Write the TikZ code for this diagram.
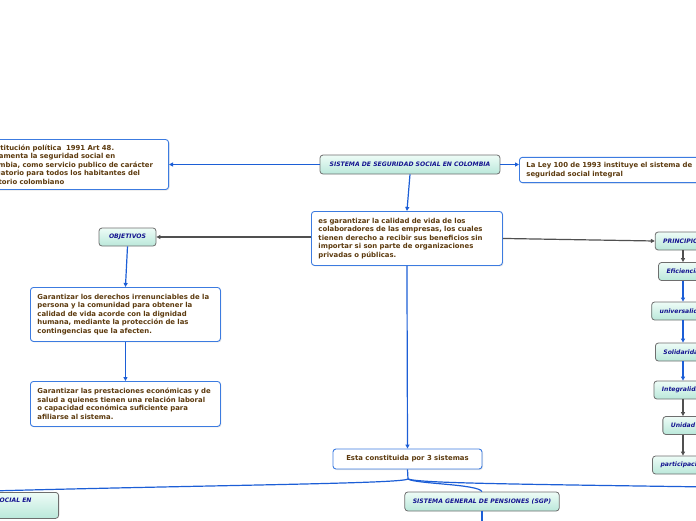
\documentclass[tikz,border=0pt]{standalone}
\usepackage{fontspec}
\setmainfont{DejaVu Sans}
\usetikzlibrary{arrows.meta,shadows}

\definecolor{linkblue}{RGB}{28,94,214}
\definecolor{boxblue}{RGB}{60,123,224}
\definecolor{txtbrown}{RGB}{92,58,14}
\definecolor{topicnavy}{RGB}{20,20,144}
\definecolor{topicgray}{RGB}{110,110,110}
\definecolor{mintlight}{RGB}{238,252,247}
\definecolor{mintdark}{RGB}{186,232,218}
\definecolor{arrowgray}{RGB}{80,80,80}

\begin{document}
\begin{tikzpicture}[x=1pt,y=-1pt,
  txtbox/.style={draw=boxblue, line width=0.9pt, rounded corners=3pt, fill=white,
    text=txtbrown, font=\bfseries\fontsize{6.9}{8.6}\selectfont, align=left,
    inner xsep=7pt, inner ysep=5pt,
    drop shadow={opacity=0.2, shadow xshift=1pt, shadow yshift=-1pt}},
  topic/.style={draw=topicgray, line width=0.8pt, rounded corners=3pt,
    top color=mintlight, bottom color=mintdark, text=topicnavy,
    font=\bfseries\itshape\fontsize{6.1}{8}\selectfont, inner xsep=8pt, minimum height=18pt},
  bluelink/.style={draw=linkblue, line width=1.2pt, -{Triangle[length=4pt,width=4pt]}},
  graylink/.style={draw=arrowgray, line width=1.2pt, -{Triangle[length=4pt,width=4pt]}},
  branch/.style={draw=linkblue, line width=1.2pt}]

  \useasboundingbox (0,0) rectangle (696,520);

  % Central topic and its neighbours
  \node[topic, minimum width=180pt, minimum height=19pt] (ssc) at (410,164.5) {SISTEMA DE SEGURIDAD SOCIAL EN COLOMBIA};
  \node[txtbox, text width=180pt, anchor=east] (constit) at (169,164.5) {Constitución política\ \ 1991 Art 48.\\ Reglamenta la seguridad social en\\ Colombia, como servicio publico de carácter\\ obligatorio para todos los habitantes del\\ territorio colombiano};
  \node[txtbox, text width=180pt, anchor=west] (ley) at (519,170) {La Ley 100 de 1993 instituye el sistema de\\ seguridad social integral};
  \node[txtbox, text width=177pt, anchor=north west, minimum height=54pt] (fin) at (311,211) {es garantizar la calidad de vida de los\\ colaboradores de las empresas, los cuales\\ tienen derecho a recibir sus beneficios sin\\ importar si son parte de organizaciones\\ privadas o públicas.};

  % Objetivos
  \node[topic, minimum width=57pt] (obj) at (127.5,237) {OBJETIVOS};
  \node[txtbox, text width=176pt, anchor=north west, minimum height=54pt] (obj1) at (30,287) {Garantizar los derechos irrenunciables de la\\ persona y la comunidad para obtener la\\ calidad de vida acorde con la dignidad\\ humana, mediante la protección de las\\ contingencias que la afecten.};
  \node[txtbox, text width=176pt, anchor=north west, minimum height=45pt] (obj2) at (30,381) {Garantizar las prestaciones económicas y de\\ salud a quienes tienen una relación laboral\\ o capacidad económica suficiente para\\ afiliarse al sistema.};

  % Principios
  \node[topic] (prin) at (683,241) {PRINCIPIOS};
  \node[topic] (efi) at (683,271.5) {Eficiencia};
  \node[topic] (univ) at (683,311) {universalidad};
  \node[topic] (soli) at (683,352) {Solidaridad};
  \node[topic] (integ) at (683,390) {Integralidad};
  \node[topic] (unid) at (683,425.5) {Unidad};
  \node[topic] (parti) at (683,465) {participación};

  % Sistemas
  \node[txtbox, minimum width=149pt, minimum height=20pt, align=center, inner ysep=3pt] (esta) at (407.5,459) {Esta constituida por 3 sistemas};
  \node[topic, minimum width=154pt, minimum height=19pt] (sgp) at (482,501.5) {SISTEMA GENERAL DE PENSIONES (SGP)};
  \node[topic, anchor=north east, inner xsep=27pt, minimum height=26pt, align=center] (salud) at (59,492) {SISTEMA GENERAL DE SEGURIDAD SOCIAL EN\\ \strut};

  % Connectors
  \draw[bluelink] (ssc.west) -- (constit.east);
  \draw[bluelink] (ssc.east) -- (ley.west |- ssc.east);
  \draw[bluelink] (ssc.south) -- (fin.north);
  \draw[graylink] (fin.west |- obj.east) -- (obj.east);
  \draw[graylink] (fin.east) -- (prin.west);
  \draw[bluelink] (obj.south) -- (obj1.north);
  \draw[bluelink] (obj1.south) -- (obj2.north);

  \draw[graylink] (prin.south) -- (efi.north);
  \draw[bluelink] (efi.south) -- (univ.north);
  \draw[bluelink] (univ.south) -- (soli.north);
  \draw[bluelink] (soli.south) -- (integ.north);
  \draw[graylink] (integ.south) -- (unid.north);
  \draw[graylink] (unid.south) -- (parti.north);

  \draw[bluelink] (fin.south) -- (esta.north);

  % Branches to the three systems
  \coordinate (fork) at (408,479);
  \coordinate (rightend) at (710,487);
  \coordinate (sgpdown) at (482,525);
  \draw[branch] (esta.south) -- (fork);
  \draw[branch] (fork) .. controls (400,484) and (200,485) .. (salud.north);
  \draw[branch] (fork) .. controls (416,484) and (478,484) .. (sgp.north);
  \draw[branch] (fork) .. controls (420,483) and (500,484) .. (rightend);
  \draw[branch] (sgp.south) -- (sgpdown);
\end{tikzpicture}
\end{document}
